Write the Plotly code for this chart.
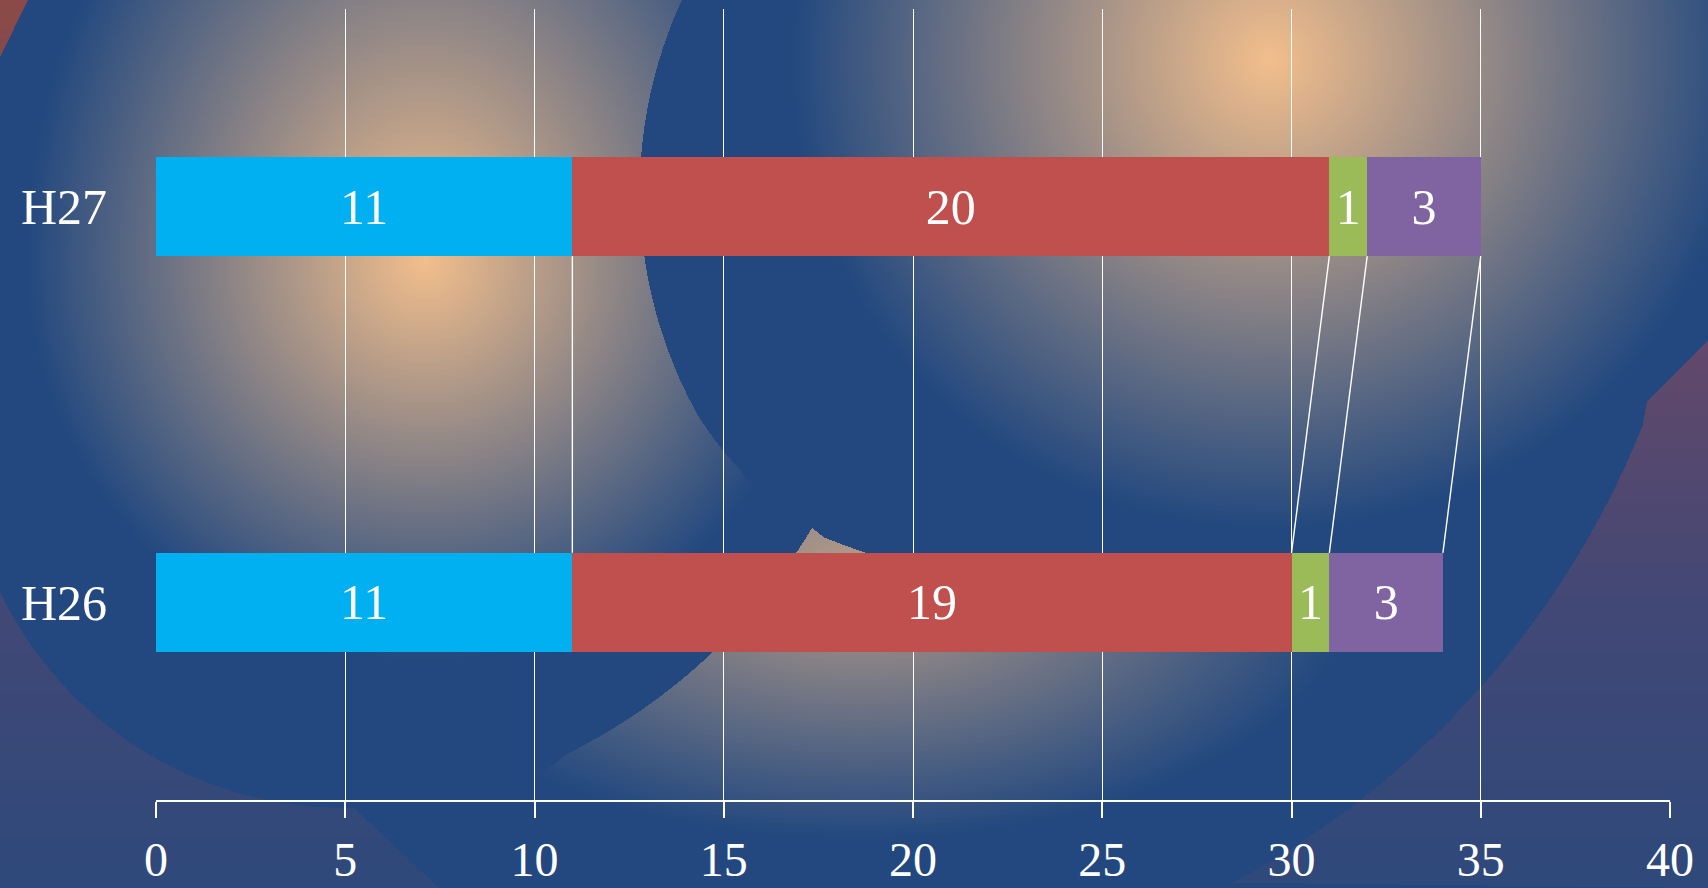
import base64
import struct
import zlib

import numpy as np
import plotly.graph_objects as go

# ---------------- data ----------------
categories = ["H26", "H27"]
series_1 = [11, 11]   # cyan
series_2 = [19, 20]   # red
series_3 = [1, 1]     # green
series_4 = [3, 3]     # purple
x_tick_values = [0, 5, 10, 15, 20, 25, 30, 35, 40]

series = [series_1, series_2, series_3, series_4]
colors = ["#00B0F0", "#C0504D", "#9BBB59", "#8064A2"]

# ---------------- figure geometry ----------------
W, H = 1708, 888
ML, MR, MT, MB = 156, 38, 9, 88
PW, PH = W - ML - MR, H - MT - MB
FONT = "Liberation Serif, Times New Roman, serif"
FS = 50
FS_X = 48

# ---------------- decorative background (raster) ----------------
yy, xx = np.mgrid[0:H, 0:W].astype(float) + 0.5


def in_poly(pts):
    inside = np.zeros((H, W), bool)
    n = len(pts)
    for i in range(n):
        x1, y1 = pts[i]
        x2, y2 = pts[(i + 1) % n]
        if y1 == y2:
            continue
        cond = (y1 > yy) != (y2 > yy)
        xint = (x2 - x1) * (yy - y1) / (y2 - y1) + x1
        inside ^= cond & (xx < xint)
    return inside


def fit_circle(pts):
    p = np.array(pts, float)
    A = np.column_stack([2 * p[:, 0], 2 * p[:, 1], np.ones(len(p))])
    b = (p ** 2).sum(1)
    cx, cy, c = np.linalg.lstsq(A, b, rcond=None)[0]
    return cx, cy, np.sqrt(c + cx ** 2 + cy ** 2)


def arc(pts, n=80):
    """Densely sampled circular arc fitted through the guide points (first to last)."""
    cx, cy, r = fit_circle(pts)
    a0 = np.arctan2(pts[0][1] - cy, pts[0][0] - cx)
    a1 = np.arctan2(pts[-1][1] - cy, pts[-1][0] - cx)
    am = np.arctan2(pts[len(pts) // 2][1] - cy, pts[len(pts) // 2][0] - cx)
    d = (a1 - a0) % (2 * np.pi)
    if not ((am - a0) % (2 * np.pi) < d):
        d = d - 2 * np.pi
    t = a0 + d * np.linspace(0, 1, n)
    return [(cx + r * np.cos(v), cy + r * np.sin(v)) for v in t]


def glow(cx, cy, rx, ry_up, ry_down, peak=1.0, power=1.0):
    ry = np.where(yy < cy, ry_up, ry_down)
    d = np.sqrt(((xx - cx) / rx) ** 2 + ((yy - cy) / ry) ** 2)
    return peak * np.clip(1 - d, 0, 1) ** power


blue = np.array([34, 72, 127], float)
peach = np.array([242, 190, 140], float)

stops_y = [0, 350, 600, 888]
stops_c = np.array([[140, 74, 70], [98, 72, 106], [66, 72, 117], [46, 73, 123]], float)
col_y = np.stack([np.interp(yy[:, 0], stops_y, stops_c[:, k]) for k in range(3)], axis=-1)
backdrop = np.repeat(col_y[:, None, :], W, axis=1)

b_upper = arc([(682, 0), (648, 100), (642, 200), (655, 315), (701, 420)], 50)
b_lower = arc([(701, 420), (740, 470), (776, 503), (812, 528)], 20)
b_edge = b_upper + b_lower[1:]
b_bottom = arc([(812, 528), (1000, 598), (1200, 592), (1427, 492), (1647, 401)], 60)
B_dom = b_edge + b_bottom[1:] + [(1708, 341), (1708, 0)]
d_left = arc([(812, 528), (712, 653), (641, 710), (569, 753)], 40)
A_dom = [(0, 0)] + b_edge + d_left[1:] + [(505, 800), (460, 888), (0, 888)]

TL = [(0, 0), (28, 0), (0, 57)]
BL = arc([(0, 587), (36, 657), (89, 713), (157, 757), (250, 793), (354, 810)], 60) + \
    [(439, 888), (0, 888)]
BR = [(1708, 341), (1647, 401)] + \
    arc([(1639, 424), (1604, 525), (1526, 637), (1449, 712), (1371, 787), (1294, 844), (1236, 888)], 60) + \
    [(1708, 888)]

mA = in_poly(A_dom)
mB = in_poly(B_dom) & ~mA
mD = ~mA & ~mB
purple = in_poly(TL) | in_poly(BL) | in_poly(BR)

gA = glow(425, 261, 400, 520, 400)
gB = glow(1270, 60, 480, 480, 470)
gD = glow(860, 575, 500, 330, 265, peak=0.72)
g = np.where(mA, gA, 0.0) + np.where(mB, gB, 0.0) + np.where(mD, gD, 0.0)
g = np.clip(g, 0, 1)[..., None]

img = blue[None, None, :] * (1 - g) + peach[None, None, :] * g
img = np.where(purple[..., None], backdrop, img)
img = np.clip(np.round(img), 0, 255).astype(np.uint8)


def png_data_uri(arr):
    h, w, _ = arr.shape
    a = arr.astype(np.int16)
    up = np.empty_like(a)
    up[0] = a[0]
    up[1:] = (a[1:] - a[:-1]) % 256
    rows = np.concatenate([np.full((h, 1), 2, np.uint8),
                           up.astype(np.uint8).reshape(h, w * 3)], axis=1)

    def chunk(t, d):
        c = struct.pack(">I", len(d)) + t + d
        return c + struct.pack(">I", zlib.crc32(t + d) & 0xFFFFFFFF)

    ihdr = struct.pack(">IIBBBBB", w, h, 8, 2, 0, 0, 0)
    data = (b"\x89PNG\r\n\x1a\n" + chunk(b"IHDR", ihdr)
            + chunk(b"IDAT", zlib.compress(rows.tobytes(), 9)) + chunk(b"IEND", b""))
    return "data:image/png;base64," + base64.b64encode(data).decode()


bg_uri = png_data_uri(img)

# ---------------- chart ----------------
fig = go.Figure()
for vals, col in zip(series, colors):
    fig.add_trace(go.Bar(
        y=categories, x=vals, orientation="h", width=0.25,
        marker=dict(color=col, line=dict(width=0)),
        text=[str(v) for v in vals], textposition="inside",
        insidetextanchor="middle", textangle=0,
        textfont=dict(family=FONT, size=FS, color="white"),
        hoverinfo="skip", showlegend=False,
    ))

# series lines between the cumulative segment ends
cum_top = np.cumsum([s[1] for s in series])
cum_bot = np.cumsum([s[0] for s in series])
for xt, xb in zip(cum_top, cum_bot):
    fig.add_shape(type="line", xref="x", yref="y",
                  x0=float(xt), y0=1 - 0.125, x1=float(xb), y1=0 + 0.125,
                  line=dict(color="white", width=1.4), layer="above")

fig.update_layout(
    template="none",
    width=W, height=H, autosize=False,
    margin=dict(l=ML, r=MR, t=MT, b=MB, pad=0, autoexpand=False),
    paper_bgcolor="#22487f", plot_bgcolor="rgba(0,0,0,0)",
    barmode="stack", bargap=0.75,
    uniformtext=dict(minsize=FS, mode="show"),
    images=[dict(source=bg_uri, xref="paper", yref="paper",
                 x=-ML / PW, y=1 + MT / PH, sizex=W / PW, sizey=H / PH,
                 xanchor="left", yanchor="top", sizing="stretch", layer="below")],
    xaxis=dict(range=[0, 40], tickvals=x_tick_values, ticktext=[str(v) for v in x_tick_values],
               automargin=False,
               showgrid=True, gridcolor="white", gridwidth=1.4, zeroline=False,
               showline=True, linecolor="white", linewidth=2,
               ticks="outside", ticklen=16, tickwidth=1.6, tickcolor="white",
               ticklabelstandoff=0,
               tickfont=dict(family=FONT, size=FS_X, color="white")),
    yaxis=dict(type="category", categoryorder="array", categoryarray=categories,
               automargin=False,
               range=[-0.5, 1.5], showgrid=False, zeroline=False, showline=False,
               ticks="", ticklabelstandoff=48,
               tickfont=dict(family=FONT, size=FS, color="white")),
    font=dict(family=FONT, color="white"),
)

fig.write_html("out.html", config={"displayModeBar": False, "responsive": False},
               post_script=("document.body.style.margin='0';"
                            "document.body.style.overflow='hidden';"))
